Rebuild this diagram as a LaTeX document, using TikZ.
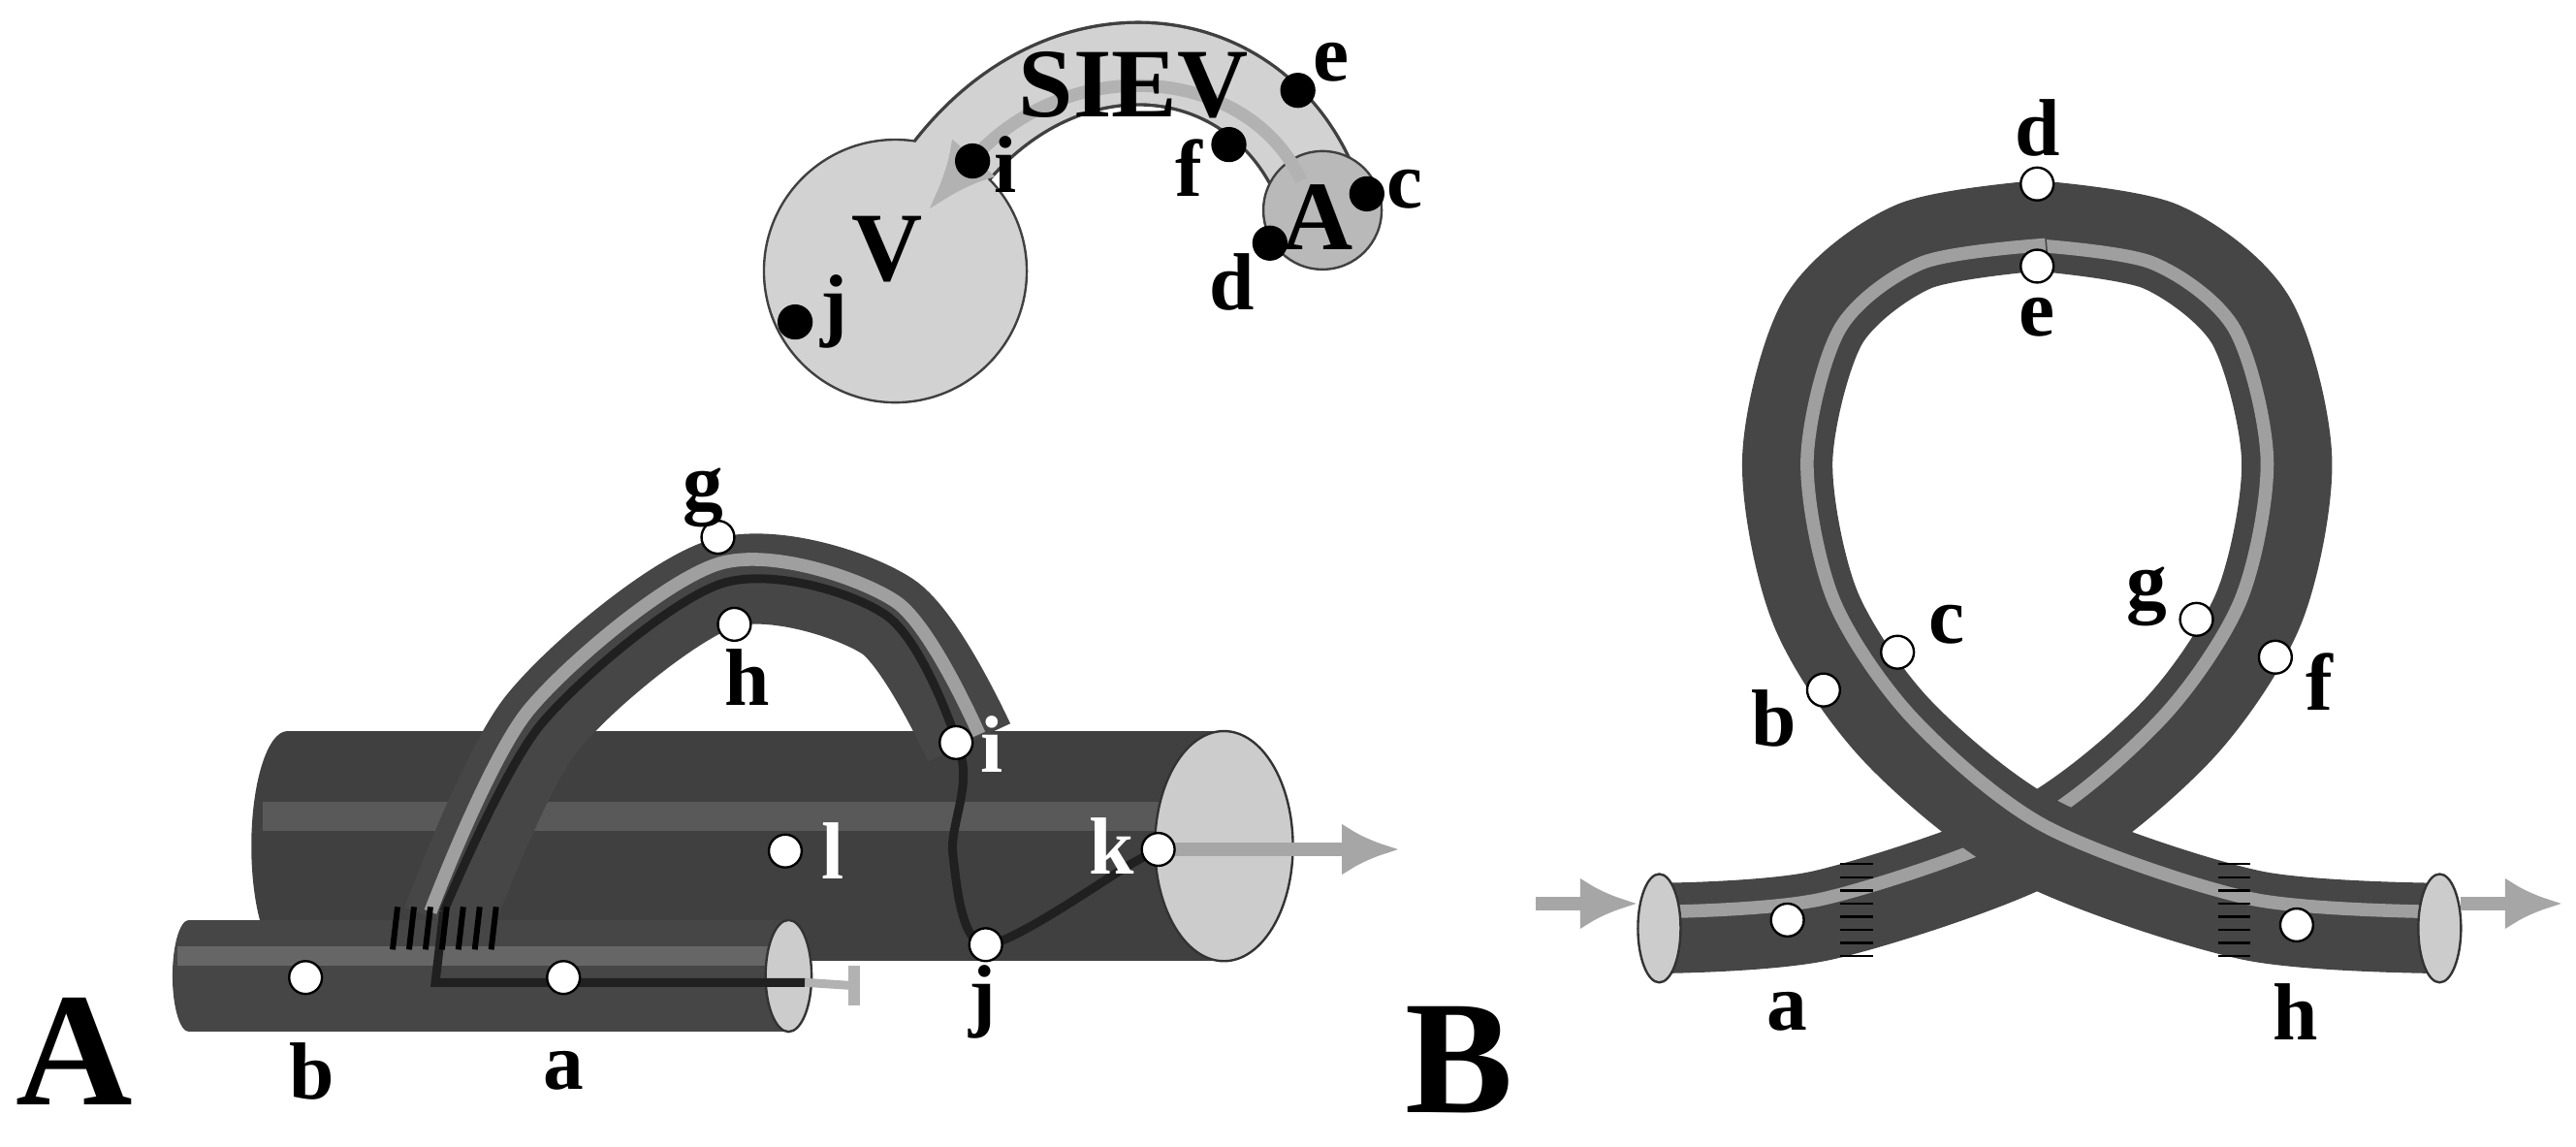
\documentclass[tikz,border=0pt]{standalone}
\usepackage{fontspec}
\setmainfont{Liberation Serif}
\tikzset{
  lbl/.style={font=\fontsize{14}{16}\selectfont\bfseries},
  big/.style={font=\fontsize{28}{30}\selectfont\bfseries},
  bdot/.style={fill=black},
  wdot/.style={fill=white},
  flow/.style={draw=gray!70,line width=2.2pt,-{Latex[length=10pt,width=9pt]}},
  tube/.style={line width=#1,draw=gray!55!black,line cap=butt},
  shine/.style={line width=#1,draw=gray!75,line cap=butt}
}
\usetikzlibrary{arrows.meta}
\begin{document}
\begin{tikzpicture}[x=0.01cm,y=-0.01cm]
  \useasboundingbox (0,0) rectangle (1568,698);

  % heart sketch
  \draw[line width=0.52cm,gray!50!black] (570,110) .. controls (640,10) and (760,20) .. (800,110);
  \filldraw[fill=gray!35,draw=gray!50!black] (545,165) circle (80);
  \draw[line width=0.48cm,gray!35] (570,110) .. controls (640,10) and (760,20) .. (800,110);
  \filldraw[fill=gray!55,draw=gray!50!black] (805,128) circle (36);
  \draw[gray!60,line width=2.2pt,-{Latex[length=12pt,width=10pt]}] (792,110) .. controls (760,40) and (650,30) .. (565,128);
  \node[lbl,font=\fontsize{17}{19}\selectfont\bfseries] (siev) at (690,52) {SIEV};
  \node[lbl,font=\fontsize{17}{19}\selectfont\bfseries] (v) at (540,152) {V};
  \node[lbl,font=\fontsize{17}{19}\selectfont\bfseries] (atr) at (802,132) {A};
  \filldraw[bdot] (790,55) circle (10);  \node[lbl] (le) at (810,38) {e};
  \filldraw[bdot] (592,98) circle (10);  \node[lbl] (li) at (612,100) {i};
  \filldraw[bdot] (748,88) circle (10);  \node[lbl] (lf) at (724,102) {f};
  \filldraw[bdot] (832,118) circle (10); \node[lbl] (lc) at (855,115) {c};
  \filldraw[bdot] (773,148) circle (10); \node[lbl] (ld) at (750,172) {d};
  \filldraw[bdot] (484,196) circle (10); \node[lbl] (lj) at (508,190) {j};

  % panel A: big vessel
  \fill[gray!50!black] (175,515) ellipse (22 and 70);
  \fill[gray!50!black] (175,445) rectangle (745,585);
  \fill[gray!70!black] (160,488) rectangle (745,506);
  \filldraw[fill=gray!40,draw=gray!40!black] (745,515) ellipse (42 and 70);
  % small vessel
  \fill[gray!55!black] (115,594) ellipse (10 and 34);
  \fill[gray!55!black] (115,560) rectangle (480,628);
  \fill[gray!80!black] (108,576) rectangle (480,588);
  \filldraw[fill=gray!40,draw=gray!40!black] (480,594) ellipse (14 and 34);
  % graft arch
  \draw[tube=0.55cm] plot[smooth] coordinates {(272,562) (330,440) (440,355) (540,375) (590,452)};
  \draw[shine=0.08cm] plot[smooth] coordinates {(262,555) (322,432) (438,343) (545,366) (596,447)};
  \draw[gray!25!black,line width=1.5pt] plot[smooth] coordinates {(270,555) (330,440) (440,355) (540,375) (585,460) (580,520) (600,575) (690,525) (705,517)};
  \draw[gray!25!black,line width=1.5pt] (270,555) -- (265,598) -- (490,598);
  \draw[gray!60,line width=1.5pt] (490,598) -- (520,600);
  \draw[gray!60,line width=2pt] (520,588) -- (520,612);
  \foreach \hx in {242,252,...,302}
    \draw[black,line width=1pt] (\hx,552) -- (\hx-3,578);
  \draw[flow] (705,517) -- (852,517);
  \filldraw[wdot] (437,327) circle (10); \node[lbl] (ag) at (428,303) {g};
  \filldraw[wdot] (447,380) circle (10); \node[lbl] (ah) at (455,412) {h};
  \filldraw[wdot] (582,452) circle (10); \node[lbl,white] (ai) at (604,453) {i};
  \filldraw[wdot] (478,518) circle (10); \node[lbl,white] (al) at (507,518) {l};
  \filldraw[wdot] (705,517) circle (10); \node[lbl,white] (ak) at (677,515) {k};
  \filldraw[wdot] (600,575) circle (10); \node[lbl] (aj) at (598,610) {j};
  \filldraw[wdot] (186,595) circle (10); \node[lbl] (ab) at (190,652) {b};
  \filldraw[wdot] (343,595) circle (10); \node[lbl] (aa) at (343,652) {a};
  \node[big] (pa) at (45,640) {A};

  % panel B: loop
  \draw[tube=0.55cm] plot[smooth] coordinates {(1010,565) (1110,557) (1240,512) (1325,445) (1375,370) (1392,280) (1370,195) (1315,150) (1235,137)};
  \draw[shine=0.08cm] plot[smooth] coordinates {(1010,555) (1110,547) (1235,503) (1316,437) (1364,365) (1380,280) (1360,200) (1310,160) (1235,149)};
  \draw[tube=0.55cm] plot[smooth] coordinates {(1245,137) (1165,150) (1110,195) (1088,280) (1105,370) (1155,445) (1240,512) (1370,557) (1485,565)};
  \draw[shine=0.08cm] plot[smooth] coordinates {(1245,149) (1170,160) (1120,200) (1100,280) (1116,365) (1164,437) (1245,503) (1370,547) (1485,555)};
  \filldraw[fill=gray!40,draw=gray!40!black] (1010,565) ellipse (13 and 33);
  \filldraw[fill=gray!40,draw=gray!40!black] (1485,565) ellipse (13 and 33);
  \foreach \hy in {526,534,...,582} {
    \draw[black] (1120,\hy) -- (1140,\hy);
    \draw[black] (1350,\hy) -- (1370,\hy);
  }
  \draw[flow] (935,550) -- (997,550);
  \draw[flow] (1498,550) -- (1560,550);
  \filldraw[wdot] (1240,112) circle (10); \node[lbl] (bd) at (1240,78) {d};
  \filldraw[wdot] (1240,162) circle (10); \node[lbl] (be) at (1240,193) {e};
  \filldraw[wdot] (1110,420) circle (10); \node[lbl] (bb) at (1080,437) {b};
  \filldraw[wdot] (1155,397) circle (10); \node[lbl] (bc) at (1185,380) {c};
  \filldraw[wdot] (1337,377) circle (10); \node[lbl] (bg) at (1307,363) {g};
  \filldraw[wdot] (1385,400) circle (10); \node[lbl] (bf) at (1412,415) {f};
  \filldraw[wdot] (1088,560) circle (10); \node[lbl] (ba) at (1088,616) {a};
  \filldraw[wdot] (1398,563) circle (10); \node[lbl] (bh) at (1397,616) {h};
  \node[big] (pb) at (888,645) {B};
\end{tikzpicture}
\end{document}
